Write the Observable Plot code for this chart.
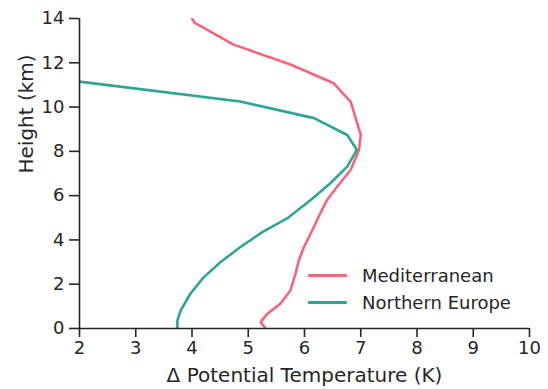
<!DOCTYPE html>
<html>
<head>
<meta charset="utf-8">
<script src="https://cdn.jsdelivr.net/npm/d3@7"></script>
<script src="https://cdn.jsdelivr.net/npm/@observablehq/plot@0.6"></script>
<style>
  html, body { margin: 0; padding: 0; background: #fff; }
  #wrap { position: relative; width: 548px; height: 389px; font-family: "DejaVu Sans", sans-serif; color: #262626; }
  #legend { position: absolute; left: 308px; top: 262px; font-size: 18px; line-height: 27px; }
  #legend .row { display: flex; align-items: center; height: 27px; }
  #legend .sw { width: 39px; height: 3px; margin-right: 15px; border-radius: 1px; }
</style>
</head>
<body>
<div id="wrap"></div>
<script>
const seriesNames = ["Mediterranean", "Northern Europe"];
const seriesColors = ["#f7657c", "#2ca597"];

const medTemp   = [4.0, 4.05, 4.74, 5.75, 6.51, 6.82, 7.0, 6.97, 6.82, 6.58, 6.40, 6.28, 6.11, 5.99, 5.90, 5.84, 5.75, 5.57, 5.34, 5.22, 5.31];
const medHeight = [14.0, 13.8, 12.82, 11.92, 11.09, 10.25, 8.74, 8.07, 7.16, 6.40, 5.80, 5.20, 4.29, 3.68, 3.08, 2.48, 1.72, 1.12, 0.67, 0.29, 0.0];

const norTemp   = [2.0, 4.86, 6.17, 6.76, 6.93, 6.76, 6.46, 6.11, 5.69, 5.25, 4.86, 4.51, 4.21, 3.97, 3.80, 3.74, 3.74];
const norHeight = [11.15, 10.25, 9.50, 8.74, 8.07, 7.31, 6.56, 5.80, 4.97, 4.35, 3.68, 3.00, 2.32, 1.57, 0.82, 0.36, 0.0];

const xTicks = [2, 3, 4, 5, 6, 7, 8, 9, 10];
const yTicks = [0, 2, 4, 6, 8, 10, 12, 14];

const xLabel = "Δ Potential Temperature (K)";
const yLabel = "Height (km)";

const rows = [];
medTemp.forEach((t, i) => rows.push({series: seriesNames[0], t, h: medHeight[i]}));
norTemp.forEach((t, i) => rows.push({series: seriesNames[1], t, h: norHeight[i]}));

const chart = Plot.plot({
  width: 548,
  height: 389,
  marginLeft: 79,
  marginRight: 19,
  marginTop: 18,
  marginBottom: 61,
  style: { fontFamily: "DejaVu Sans, sans-serif", fontSize: "18px", color: "#262626", background: "#fff" },
  x: { domain: [2, 10] },
  y: { domain: [0, 14] },
  color: { domain: seriesNames, range: seriesColors },
  marks: [
    Plot.line(rows, { x: "t", y: "h", z: "series", stroke: "series", strokeWidth: 2.6, strokeLinejoin: "round", clip: true }),
    Plot.axisX({ ticks: xTicks, tickSize: 9, tickPadding: 4, tickFormat: d => String(d), label: null, strokeWidth: 1.6, fontSize: 18 }),
    Plot.axisY({ ticks: yTicks, tickSize: 10, tickPadding: 5, tickFormat: d => String(d), label: null, strokeWidth: 1.6, fontSize: 18 }),
    Plot.ruleX([2], { stroke: "#262626", strokeWidth: 1.6 }),
    Plot.ruleY([0], { stroke: "#262626", strokeWidth: 1.6 }),
    Plot.text([xLabel], { frameAnchor: "bottom", dy: 53, fontSize: 20, fill: "#262626", text: d => d }),
    Plot.text([yLabel], { frameAnchor: "left", rotate: -90, dx: -53, fontSize: 20, fill: "#262626", text: d => d })
  ]
});

const wrap = document.getElementById("wrap");
wrap.appendChild(chart);

const legend = document.createElement("div");
legend.id = "legend";
seriesNames.forEach((name, i) => {
  const row = document.createElement("div");
  row.className = "row";
  const sw = document.createElement("div");
  sw.className = "sw";
  sw.style.background = seriesColors[i];
  const label = document.createElement("span");
  label.textContent = name;
  row.appendChild(sw);
  row.appendChild(label);
  legend.appendChild(row);
});
wrap.appendChild(legend);
</script>
</body>
</html>
